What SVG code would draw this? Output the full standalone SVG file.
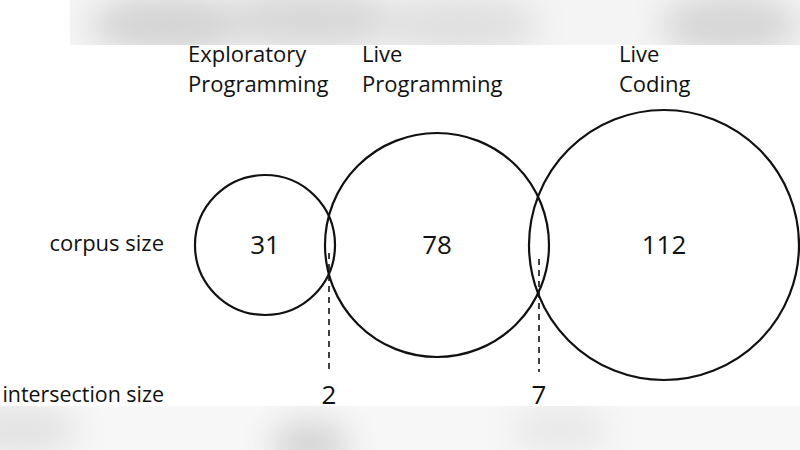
<svg xmlns="http://www.w3.org/2000/svg" width="800" height="450" viewBox="0 0 800 450">
<defs>
<style>
.t{font-family:"Open Sans","Liberation Sans",sans-serif;font-size:22px;fill:#111}
.n{font-family:"Open Sans","Liberation Sans",sans-serif;font-size:26px;fill:#111}
.c{fill:none;stroke:#111;stroke-width:2.2}
.d{stroke:#111;stroke-width:1.6;stroke-dasharray:6,5}
</style>
<filter id="bl" x="-50%" y="-80%" width="200%" height="260%"><feGaussianBlur stdDeviation="16"/></filter>
<clipPath id="topc"><rect x="0" y="0" width="800" height="45"/></clipPath>
<clipPath id="botc"><rect x="0" y="406" width="800" height="44"/></clipPath>
</defs>
<rect width="800" height="450" fill="#fff"/>
<g id="bg-top" clip-path="url(#topc)">
<rect x="70" y="0" width="730" height="45" fill="#f4f4f4"/>
<g filter="url(#bl)">
<ellipse cx="170" cy="25" rx="80" ry="30" fill="#d4d4d4"/>
<ellipse cx="310" cy="20" rx="90" ry="30" fill="#d8d8d8"/>
<ellipse cx="460" cy="25" rx="80" ry="30" fill="#e0e0e0"/>
<ellipse cx="730" cy="25" rx="70" ry="30" fill="#d6d6d6"/>
</g>
</g>
<g id="bg-bot" clip-path="url(#botc)">
<rect x="0" y="406" width="800" height="44" fill="#f7f7f7"/>
<g filter="url(#bl)">
<ellipse cx="20" cy="430" rx="60" ry="25" fill="#e2e2e2"/>
<ellipse cx="310" cy="445" rx="40" ry="25" fill="#d4d4d4"/>
<ellipse cx="560" cy="430" rx="50" ry="25" fill="#e8e8e8"/>
</g>
</g>
<g id="connectors">
<line class="d" x1="329" y1="253" x2="329" y2="372"/>
<line class="d" x1="539" y1="259" x2="539" y2="372"/>
</g>
<g id="node-exploratory">
<circle class="c" cx="265" cy="245" r="70"/>
<text class="n" x="265" y="254" text-anchor="middle">31</text>
<text class="t" x="188" y="62">Exploratory</text>
<text class="t" x="188" y="92">Programming</text>
</g>
<g id="node-liveprog">
<circle class="c" cx="437" cy="245" r="112"/>
<text class="n" x="437" y="254" text-anchor="middle">78</text>
<text class="t" x="362" y="62">Live</text>
<text class="t" x="362" y="92">Programming</text>
</g>
<g id="node-livecoding">
<circle class="c" cx="664" cy="245" r="135"/>
<text class="n" x="664" y="254" text-anchor="middle">112</text>
<text class="t" x="619" y="62">Live</text>
<text class="t" x="619" y="92">Coding</text>
</g>
<g id="labels">
<text class="t" x="164" y="251" text-anchor="end">corpus size</text>
<text class="t" x="164" y="402" text-anchor="end" style="font-size:21.4px">intersection size</text>
<text class="n" x="329" y="404" text-anchor="middle">2</text>
<text class="n" x="539" y="404" text-anchor="middle">7</text>
</g>
</svg>
